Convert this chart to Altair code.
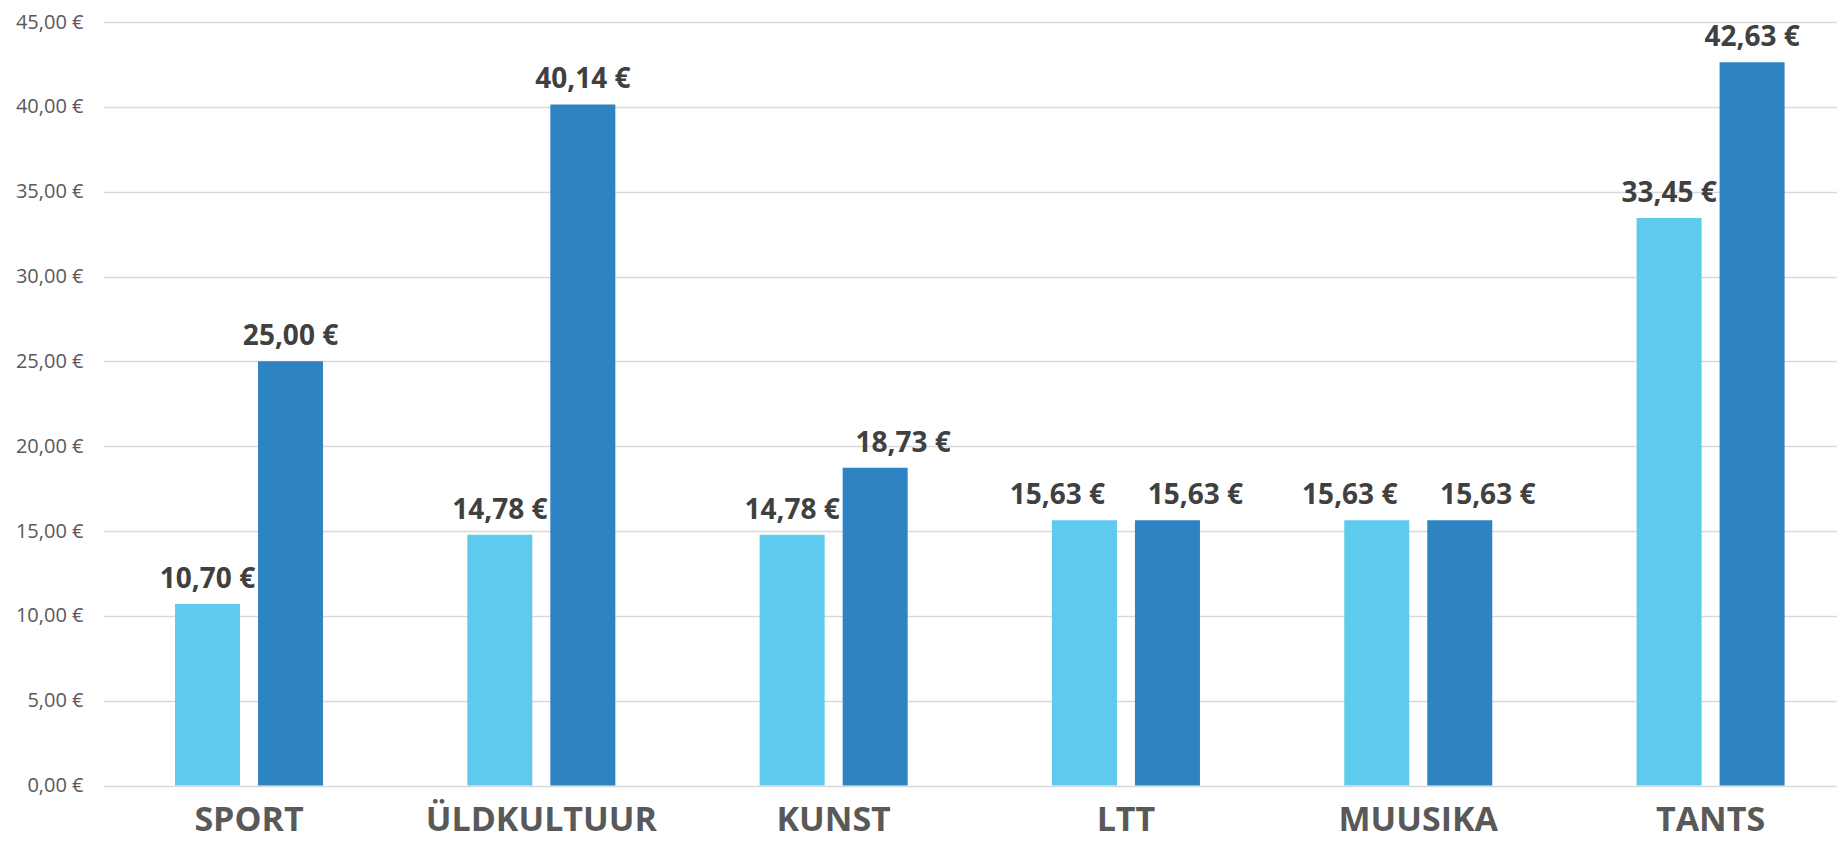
import altair as alt
import pandas as pd

categories = ["SPORT", "ÜLDKULTUUR", "KUNST", "LTT", "MUUSIKA", "TANTS"]
series_names = ["Periood 1", "Periood 2"]
values_light = [10.70, 14.78, 14.78, 15.63, 15.63, 33.45]
values_dark = [25.00, 40.14, 18.73, 15.63, 15.63, 42.63]
y_ticks = [0, 5, 10, 15, 20, 25, 30, 35, 40, 45]

rows = []
for c, a, b in zip(categories, values_light, values_dark):
    rows.append({"cat": c, "series": series_names[0], "value": a})
    rows.append({"cat": c, "series": series_names[1], "value": b})
df = pd.DataFrame(rows)

LIGHT = "#5ECBEE"
DARK = "#2E83C3"

base = alt.Chart(df).encode(
    x=alt.X(
        "cat:N",
        sort=categories,
        scale=alt.Scale(paddingInner=0.2, paddingOuter=0.066, align=0.754),
        axis=alt.Axis(
            title=None,
            labelAngle=0,
            domain=False,
            ticks=False,
            labelFont="Open Sans",
            labelFontWeight="bold",
            labelFontSize=34,
            labelColor="#595959",
            labelPadding=18,
            labelLimit=0,
        ),
    ),
    xOffset=alt.XOffset(
        "series:N",
        sort=series_names,
        scale=alt.Scale(paddingInner=0.217, paddingOuter=0.517),
    ),
    y=alt.Y(
        "value:Q",
        scale=alt.Scale(domain=[0, 45], nice=False),
        axis=alt.Axis(
            title=None,
            values=y_ticks,
            domain=False,
            ticks=False,
            labelFont="Open Sans",
            labelFontSize=20,
            labelColor="#595959",
            labelPadding=20,
            gridColor="#D9D9D9",
            gridWidth=1.5,
            labelExpr="replace(format(datum.value, '.2f'), '.', ',') + ' €'",
        ),
    ),
)

bars = base.mark_bar().encode(
    color=alt.Color(
        "series:N",
        sort=series_names,
        scale=alt.Scale(domain=series_names, range=[LIGHT, DARK]),
        legend=None,
    )
)

label_base = base.transform_calculate(
    label="replace(format(datum.value, '.2f'), '.', ',') + ' €'"
)

text_style = dict(
    font="Open Sans",
    fontWeight="bold",
    fontSize=28,
    color="#404040",
    baseline="alphabetic",
    align="center",
    dy=-16,
)

left_shift = "(datum.cat == 'LTT' || datum.cat == 'MUUSIKA') && datum.series == 'Periood 1'"
right_shift = "(datum.cat == 'LTT' || datum.cat == 'MUUSIKA' || datum.cat == 'KUNST') && datum.series == 'Periood 2'"

text_center = label_base.transform_filter(
    f"!({left_shift}) && !({right_shift})"
).mark_text(**text_style).encode(text="label:N")
text_left = label_base.transform_filter(left_shift).mark_text(
    **{**text_style, "dx": -27}
).encode(text="label:N")
text_right = label_base.transform_filter(right_shift).mark_text(
    **{**text_style, "dx": 28}
).encode(text="label:N")

chart = (
    alt.layer(bars, text_center, text_left, text_right)
    .properties(
        width=1734,
        height=763.5,
        autosize=alt.AutoSizeParams(type="none"),
        padding={"left": 95, "top": 14, "right": 0, "bottom": 57},
        background="white",
    )
    .configure_view(stroke=None)
)

chart.save("out.html", embed_options={"renderer": "svg", "actions": False})
